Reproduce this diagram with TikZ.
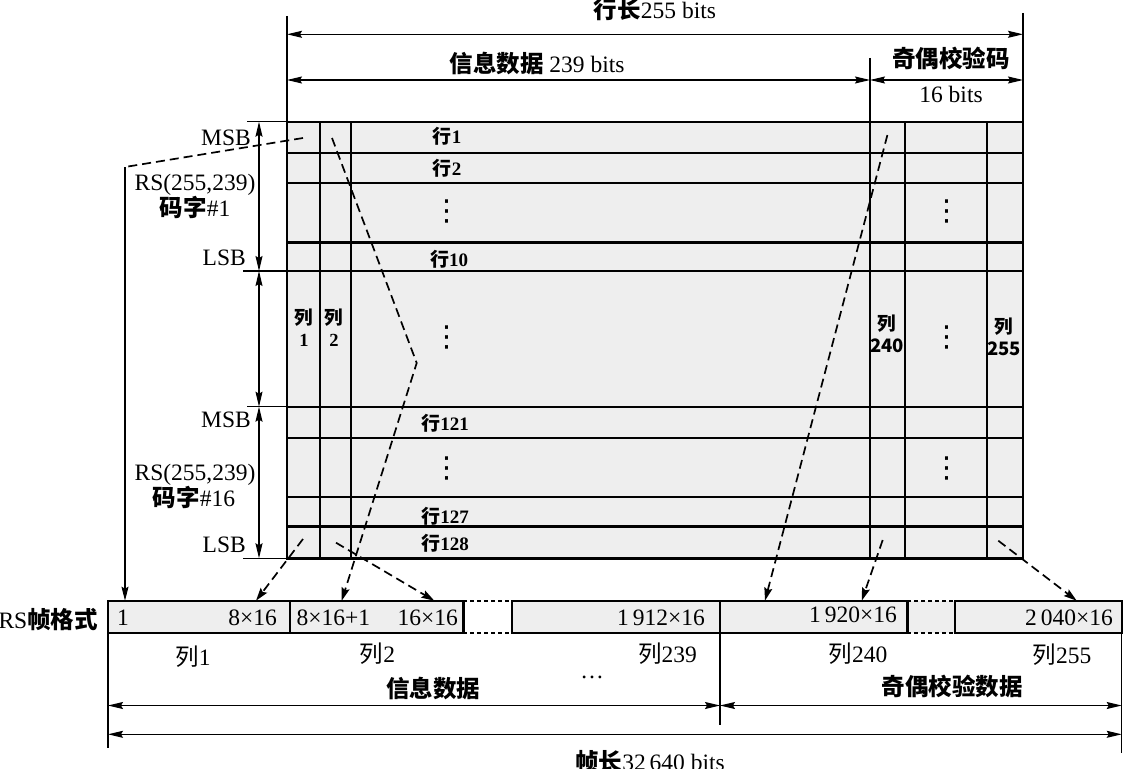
\documentclass[tikz,border=0pt]{standalone}
\usepackage{fontspec}
\setmainfont{Liberation Serif}
\newfontfamily\cjk{Noto Sans CJK SC}
\newfontfamily\djv{DejaVu Sans}
\usetikzlibrary{arrows.meta}
\definecolor{cellgray}{HTML}{EEEEEE}
\tikzset{
 lbl/.style={inner sep=0pt, font=\fontsize{23.5}{26}\selectfont},
 cj/.style={inner sep=0pt, font=\fontsize{23.5}{26}\selectfont\cjk\bfseries},
 vdt/.style={inner sep=0pt, font=\fontsize{29}{30}\selectfont\djv},
 rowlbl/.style={inner sep=0pt, font=\fontsize{19}{21}\selectfont\bfseries},
 collbl/.style={inner sep=0pt, align=center, font=\fontsize{18.5}{22}\selectfont\cjk\bfseries},
 thinl/.style={line width=1.1pt},
 dimarr/.style={line width=1.1pt, {Stealth[length=15pt,width=7pt,inset=2pt]}-{Stealth[length=15pt,width=7pt,inset=2pt]}},
 downarr/.style={line width=1.1pt, -{Stealth[length=14pt,width=7pt,inset=2pt]}},
 gline/.style={line width=2.4pt, line cap=rect},
 dashl/.style={line width=1.7pt, dash pattern=on 9pt off 5pt},
 flow/.style={dashl, -{Stealth[length=13pt,width=8pt,inset=2pt]}},
 fbox/.style={line width=2.4pt, fill=cellgray},
 gapline/.style={line width=1.8pt, dash pattern=on 4pt off 3pt},
}
\begin{document}
\begin{tikzpicture}[x=1pt,y=-1pt]
\useasboundingbox (0,0) rectangle (1129,768);
% ---------- grid ----------
\fill[cellgray] (287,121.7) rectangle (1023,558.3);
\foreach \y in {121.7,152.7,182.7,242.3,271,406.7,437.7,497,526.3,558.3}
  \draw[gline] (287,\y) -- (1023,\y);
\foreach \x in {287,320,351,870,905,987,1023}
  \draw[gline] (\x,121.7) -- (\x,558.3);
% ---------- left dimension ----------
\draw[thinl] (247,121.7) -- (287,121.7);
\draw[thinl] (243,271) -- (287,271);
\draw[thinl] (247,406.7) -- (287,406.7);
\draw[thinl] (243,558.3) -- (287,558.3);
\draw[dimarr] (259,121.7) -- (259,271);
\draw[dimarr] (259,271) -- (259,406.7);
\draw[dimarr] (259,406.7) -- (259,558.3);
% ---------- top dimension ----------
\draw[thinl] (287,16) -- (287,121.7);
\draw[thinl] (1023,13) -- (1023,121.7);
\draw[thinl] (870,58) -- (870,121.7);
\draw[dimarr] (287,34.3) -- (1023,34.3);
\draw[dimarr] (287,80) -- (870,80);
\draw[dimarr] (870,80) -- (1023,80);
\node[lbl, anchor=base] (rowlen) at (655,19) {{\cjk\bfseries 行长}255 bits};
\node[lbl, anchor=base] (infotop) at (537,73) {{\cjk\bfseries 信息数据} 239 bits};
\node[cj] (parity) at (951,58) {奇偶校验码};
\node[lbl, anchor=base] (b16) at (951,102) {16 bits};
% ---------- left labels ----------
\node[lbl, anchor=base east] (msb1) at (251,145) {MSB};
\node[lbl, anchor=base] (rs1) at (195,190) {RS(255,239)};
\node[lbl] (cw1) at (195,207.5) {{\cjk\bfseries 码字}\#1};
\node[lbl, anchor=base east] (lsb1) at (246,265) {LSB};
\node[lbl, anchor=base east] (msb2) at (251,427) {MSB};
\node[lbl, anchor=base] (rs2) at (195,480) {RS(255,239)};
\node[lbl] (cw16) at (194,497.5) {{\cjk\bfseries 码字}\#16};
\node[lbl, anchor=base east] (lsb2) at (246,552) {LSB};
% ---------- row labels ----------
\node[rowlbl] (r1) at (447,136.5) {{\cjk 行}1};
\node[rowlbl] (r2) at (447,168) {{\cjk 行}2};
\node[vdt] (v1) at (447,211) {⋮};
\node[rowlbl] (r10) at (449,259) {{\cjk 行}10};
\node[vdt] (v2) at (447,337) {⋮};
\node[rowlbl] (r121) at (445,423) {{\cjk 行}121};
\node[vdt] (v3) at (447,468) {⋮};
\node[rowlbl] (r127) at (445,516.5) {{\cjk 行}127};
\node[rowlbl] (r128) at (445,543) {{\cjk 行}128};
% ---------- column labels ----------
\node[collbl] (c1) at (304,328) {列\\{\rmfamily 1}};
\node[collbl] (c2) at (334,328) {列\\{\rmfamily 2}};
\node[collbl] (c240) at (887,334) {列\\240};
\node[collbl] (c255) at (1004,336.5) {列\\255};
\node[vdt] (v4) at (946.5,211) {⋮};
\node[vdt] (v5) at (946.5,337.5) {⋮};
\node[vdt] (v6) at (946.5,468) {⋮};
% ---------- frame row ----------
\fill[cellgray] (907.3,600.7) rectangle (955,633);
\draw[fbox] (108,600.7) rectangle (290,633);
\draw[fbox] (290,600.7) rectangle (463.3,633);
\draw[fbox] (512,600.7) rectangle (720,633);
\draw[fbox] (720,600.7) rectangle (907.3,633);
\draw[fbox] (955,600.7) rectangle (1121.7,633);
\draw[gapline] (463.3,600.7) -- (512,600.7);
\draw[gapline] (463.3,633) -- (512,633);
\draw[gapline] (907.3,600.7) -- (955,600.7);
\draw[gapline] (907.3,633) -- (955,633);
\node[lbl, anchor=east] (rsframe) at (98,620) {RS{\cjk\bfseries 帧格式}};
\node[lbl, anchor=base west] (t1) at (117,625) {1};
\node[lbl, anchor=base east] (t2) at (277,625) {8×16};
\node[lbl, anchor=base west] (t3) at (296.5,625) {8×16+1};
\node[lbl, anchor=base east] (t4) at (458,625) {16×16};
\node[lbl, anchor=base east] (t5) at (705,625) {1\,912×16};
\node[lbl, anchor=base east] (t6) at (897,622) {1\,920×16};
\node[lbl, anchor=base east] (t7) at (1113,625) {2\,040×16};
% ---------- connectors ----------
\coordinate (a1) at (303,138);   \coordinate (a1k) at (125,167); \coordinate (a1e) at (125,600.7);
\coordinate (a2) at (332,138);   \coordinate (a2k) at (416.7,363); \coordinate (a2e) at (341.7,600.7);
\coordinate (a3) at (303,539);   \coordinate (a3e) at (256,600.7);
\coordinate (a4) at (336,542.7); \coordinate (a4e) at (434.3,600.7);
\coordinate (a5) at (887.4,135); \coordinate (a5e) at (765,600.7);
\coordinate (a6) at (882.7,540); \coordinate (a6e) at (861.7,600.7);
\coordinate (a7) at (998.3,540.7); \coordinate (a7e) at (1076.7,600.7);
\draw[dashl] (a1) -- (a1k);
\draw[downarr] (a1k) -- (a1e);
\draw[flow] (a2) -- (a2k) -- (a2e);
\draw[flow] (a3) -- (a3e);
\draw[flow] (a4) -- (a4e);
\draw[flow] (a5) -- (a5e);
\draw[flow] (a6) -- (a6e);
\draw[flow] (a7) -- (a7e);
% ---------- bottom dimension ----------
\draw[thinl] (108,633) -- (108,748);
\draw[thinl] (720,633) -- (720,725);
\draw[thinl] (1121.7,633) -- (1121.7,753);
\draw[dimarr] (108,705.5) -- (720,705.5);
\draw[dimarr] (720,705.5) -- (1121.7,705.5);
\draw[dimarr] (108,734.3) -- (1121.7,734.3);
\node[lbl] (l1) at (193,657) {{\cjk 列}1};
\node[lbl] (l2) at (377.5,653.5) {{\cjk 列}2};
\node[lbl] (l239) at (667.5,654) {{\cjk 列}239};
\node[lbl] (l240) at (858,654) {{\cjk 列}240};
\node[lbl] (l255) at (1062,655) {{\cjk 列}255};
\node[lbl] (dots) at (592,677) {…};
\node[cj] (infobot) at (433,689) {信息数据};
\node[cj] (paritybot) at (952,686) {奇偶校验数据};
\node[lbl, anchor=base] (framelen) at (650,770) {{\cjk\bfseries 帧长}32\,640 bits};
\end{tikzpicture}
\end{document}
